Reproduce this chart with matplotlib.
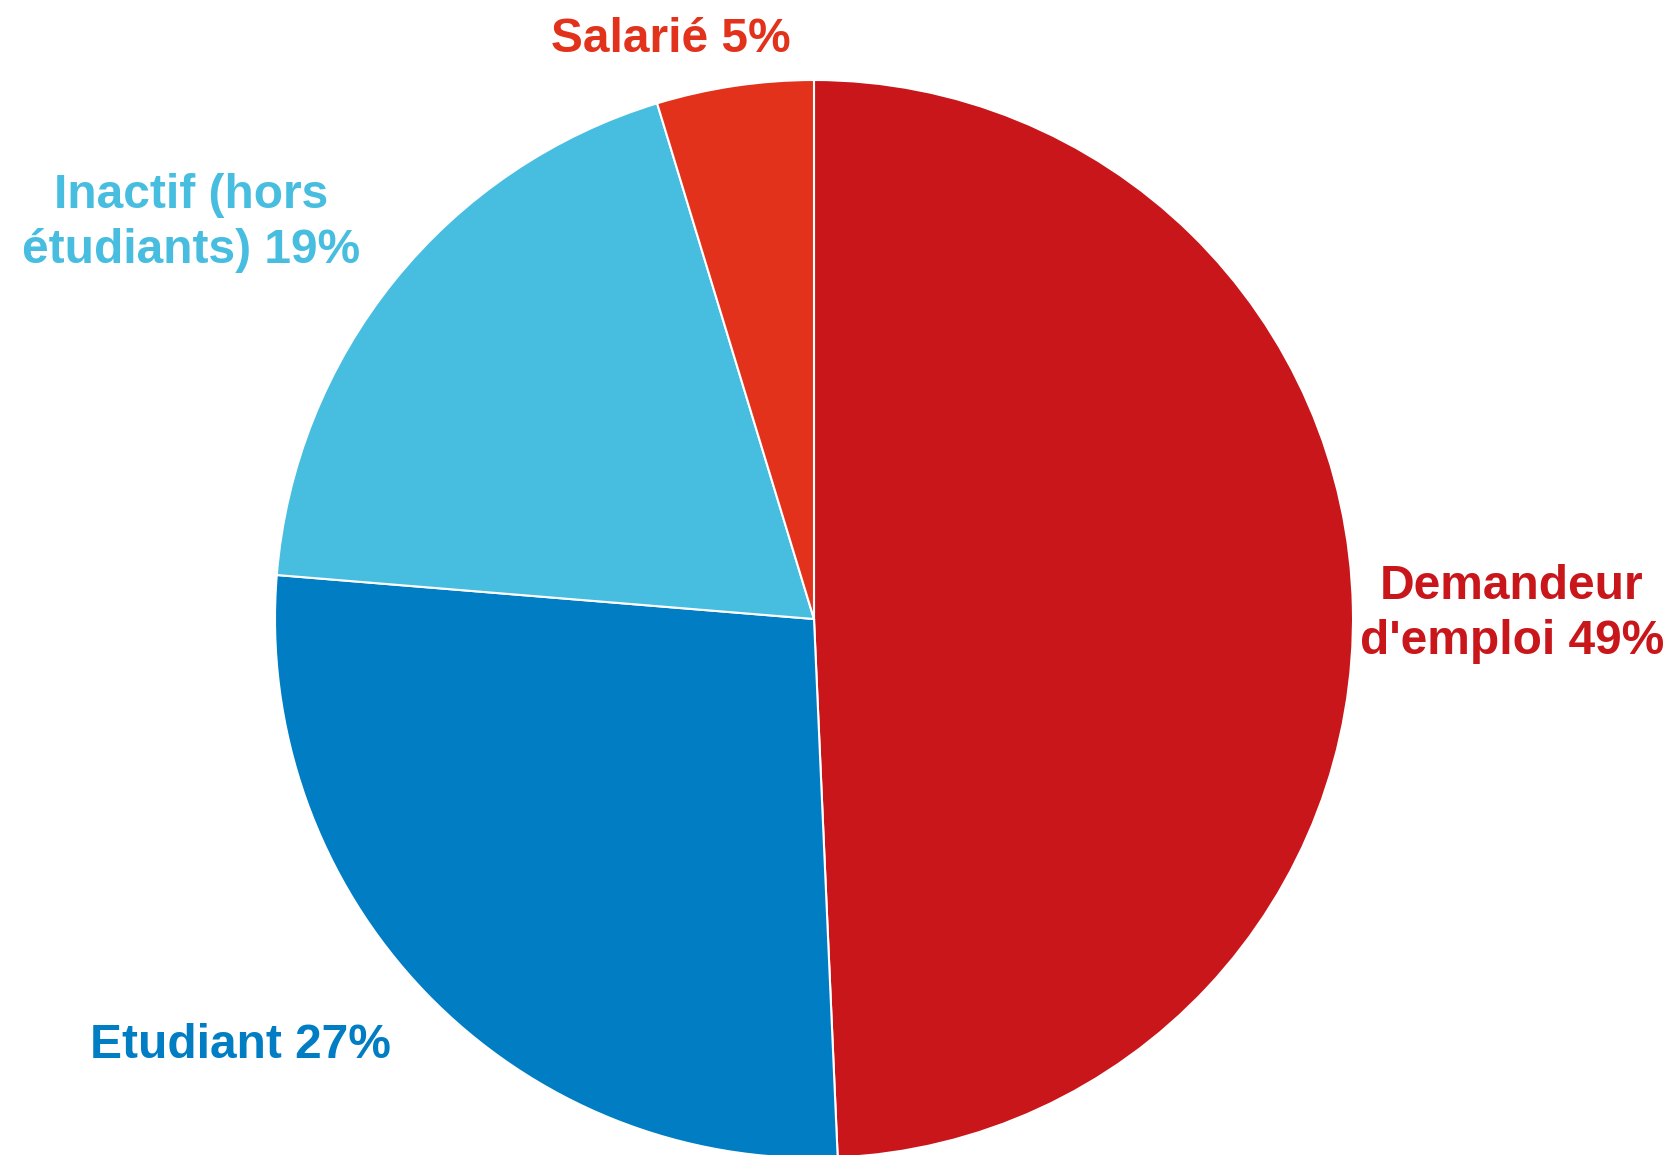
import matplotlib.pyplot as plt

plt.rcParams["font.family"] = ["Liberation Sans", "DejaVu Sans"]

# data, clockwise from 12 o'clock
categories = ["Demandeur\nd'emploi", "Etudiant", "Inactif (hors\nétudiants)", "Salarié"]
shares = [49.3, 27.0, 19.0, 4.7]
colors = ["#C8161B", "#007DC3", "#47BDE0", "#E2321B"]

# label anchor points in image pixels (x, y from top)
label_pos = [(1512, 614), (240, 1046), (191, 223), (671, 40)]

W, H = 1671, 1155

fig = plt.figure(figsize=(W / 100, H / 100), dpi=100)
ax = fig.add_axes([0, 0, 1, 1])

ax.pie(
    shares,
    colors=colors,
    startangle=90,
    counterclock=False,
    center=(814, H - 619),
    radius=539,
    wedgeprops=dict(edgecolor="white", linewidth=1.5),
)
ax.set_xlim(0, W)
ax.set_ylim(0, H)
ax.set_aspect("equal")
ax.axis("off")

for cat, val, col, (x, y) in zip(categories, shares, colors, label_pos):
    ax.text(
        x, H - y, f"{cat} {round(val)}%",
        color=col, fontsize=34.5, fontweight="bold",
        ha="center", va="center", multialignment="center",
        linespacing=1.27,
    )

fig.savefig("out.png", dpi=100)
plt.close(fig)
